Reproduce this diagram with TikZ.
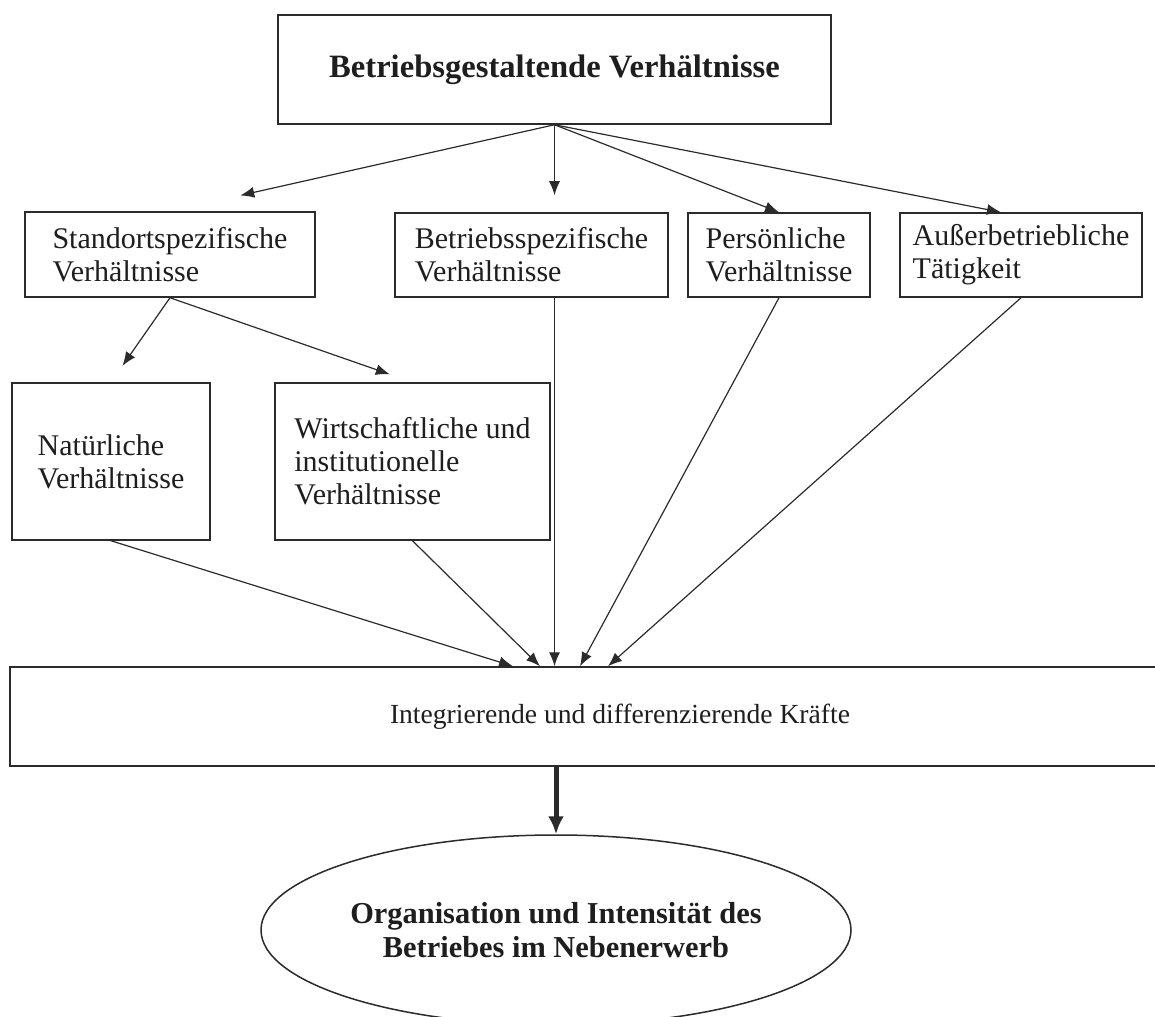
\documentclass[tikz,border=0pt]{standalone}
\usepackage{fontspec}
\setmainfont{Liberation Serif}
\usetikzlibrary{arrows.meta,shapes.geometric}
\definecolor{Linie}{HTML}{2B2B2B}
\definecolor{Schrift}{HTML}{1E1E1E}

\begin{document}
\begin{tikzpicture}[x=0.5pt,y=-0.5pt,
        kasten/.style={draw=Linie,line width=0.75pt,fill=white,align=left,inner sep=0pt,text=Schrift,font=\fontsize{15}{16.5}\selectfont},
        pfeil/.style={-{Latex[length=7pt,width=5.5pt]},line width=0.6pt,draw=Linie},
        dickpfeil/.style={-{Latex[length=9pt,width=8pt]},line width=2.5pt,draw=Linie}]
        \useasboundingbox (0,0) rectangle (1155,1016);
        \node[kasten,minimum width=276.5pt,minimum height=54.5pt,font=\fontsize{16.3}{19}\selectfont\bfseries] (oben) at (554.5,69.5) {Betriebsgestaltende Verhältnisse};
        \node[kasten,minimum width=145pt,minimum height=42.5pt] (stand) at (170,254.5) {Standortspezifische\\Verhältnisse};
        \node[kasten,minimum width=136.5pt,minimum height=42pt] (betr) at (531.5,255) {Betriebsspezifische\\Verhältnisse};
        \node[kasten,minimum width=91pt,minimum height=42pt] (pers) at (779,255) {Persönliche\\Verhältnisse};
        \node[kasten,minimum width=121pt,minimum height=42pt] (aus) at (1021,255) {Außerbetriebliche\\Tätigkeit};
        \node[kasten,minimum width=99pt,minimum height=78.5pt] (natur) at (111,461.5) {Natürliche\\Verhältnisse};
        \node[kasten,minimum width=137.5pt,minimum height=78.5pt] (wirt) at (412.5,461.5) {Wirtschaftliche und\\institutionelle\\Verhältnisse};
        \node[kasten,minimum width=610pt,minimum height=49.5pt,font=\fontsize{13.8}{16}\selectfont] (kraefte) at (620,716.5) {Integrierende und differenzierende Kräfte};
        \node[kasten,ellipse,align=center,minimum width=295pt,minimum height=95pt,font=\fontsize{15.2}{17}\selectfont\bfseries] (orga) at (556,930) {Organisation und Intensität des\\Betriebes im Nebenerwerb};
        % obere Ebene
        \draw[pfeil,shorten >=36pt] (oben.south) -- (stand.north);
        \draw[pfeil,shorten >=8.5pt] (oben.south) -- (oben.south |- betr.north);
        \draw[pfeil] (oben.south) -- (pers.north);
        \draw[pfeil] (oben.south) -- ([xshift=-10pt]aus.north);
        \draw[pfeil,shorten >=10pt] (stand.south) -- (natur.north);
        \draw[pfeil,shorten >=12pt] (stand.south) -- (wirt.north);
        % Kräfte
        \draw[pfeil] (natur.south) -- ([xshift=-53.5pt]kraefte.north);
        \draw[pfeil] (wirt.south) -- ([xshift=-40pt]kraefte.north);
        \draw[pfeil] (betr.south -| oben.south) -- (kraefte.north -| oben.south);
        \draw[pfeil] (pers.south) -- ([xshift=-20pt]kraefte.north);
        \draw[pfeil] (aus.south) -- ([xshift=-6pt]kraefte.north);
        \draw[dickpfeil] (kraefte.south -| orga.north) -- (orga.north);
\end{tikzpicture}
\end{document}
